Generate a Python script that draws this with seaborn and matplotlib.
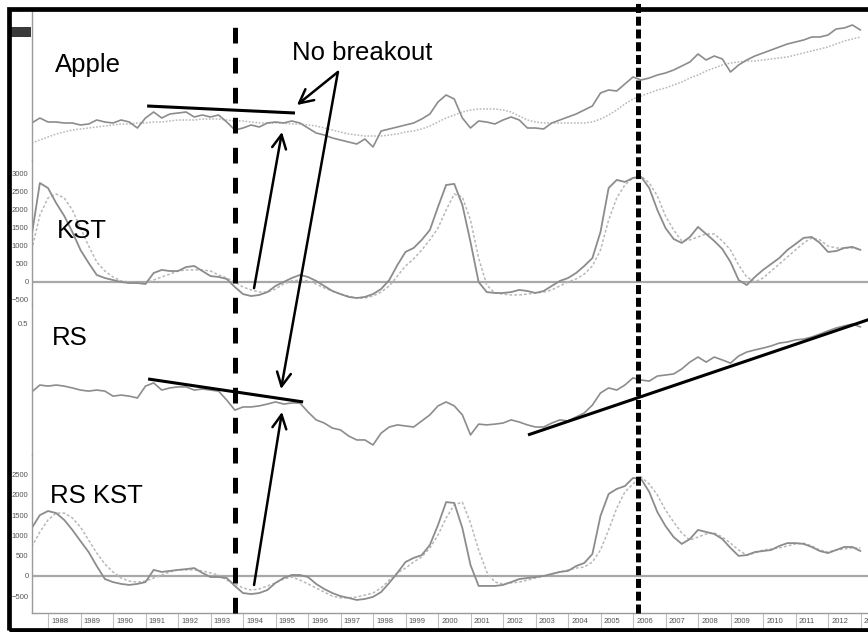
import numpy as np
import pandas as pd
import matplotlib
matplotlib.use("Agg")
import matplotlib.pyplot as plt
import matplotlib.transforms as mtransforms
from matplotlib.patches import Rectangle, ConnectionPatch, ArrowStyle
from matplotlib.ticker import FixedLocator, FixedFormatter, MultipleLocator, NullFormatter
from matplotlib import font_manager
import seaborn as sns

# ---------------- data (quarterly, 1987.5 .. 2013.0) ----------------
first_quarter = 1987.5
apple = [37, 42,
         38, 38, 37, 37,  35, 36, 40, 38,  37, 40, 38, 32,  42, 48, 42, 46,
         47, 48, 43, 45,  43, 45, 38, 30,  32, 35, 33, 37,  38, 37, 39, 37,
         32, 27, 25, 22,  20, 18, 16, 21,  13, 29, 31, 33,  35, 37, 41, 46,
         58, 65, 61, 42,  32, 39, 38, 36,  40, 43, 40, 32,  32, 31, 37, 40,
         43, 46, 50, 54,  67, 70, 69, 76,  83, 80, 82, 85,  87, 90, 94, 98,
         106, 100, 104, 101,  88, 95, 100, 104,  107, 110, 113, 116,  118, 120, 123, 123,
         125, 131, 132, 135,  130]
apple_ma = [17, 20,
            23, 26, 28, 30,  31, 32, 33, 34,  35, 36, 36, 37,  37, 38, 38, 39,
            40, 40, 40, 41,  41, 41, 40, 39,  39, 38, 37, 37,  37, 37, 36, 36,
            35, 34, 32, 30,  28, 26, 25, 24,  24, 24, 25, 26,  28, 29, 31, 34,
            38, 42, 45, 48,  50, 51, 51, 51,  50, 48, 44, 40,  38, 37, 37, 37,
            37, 37, 37, 38,  41, 45, 50, 56,  61, 64, 67, 70,  72, 75, 78, 82,
            85, 89, 92, 95,  97, 98, 99, 99,  100, 101, 102, 103,  105, 107, 109, 111,
            113, 116, 119, 121,  123]
kst = [1300, 2750,
       2610, 2195, 1835, 1390,  890, 530, 195, 110,  55, 0, -28, -28,  -55, 250, 335, 305,
       305, 415, 445, 305,  165, 140, 85, -140,  -335, -390, -360, -280,  -110, 0, 110, 195,
       140, 30, -110, -250,  -335, -415, -445, -415,  -335, -195, 55, 470,  835, 945, 1170, 1445,
       2085, 2695, 2725, 2140,  1110, 0, -280, -305,  -305, -280, -220, -250,  -305, -250, -110, 30,
       110, 250, 445, 665,  1390, 2610, 2835, 2780,  2890, 2920, 2610, 2000,  1500, 1195, 1085, 1250,
       1530, 1335, 1140, 915,  555, 55, -85, 140,  335, 500, 665, 890,  1055, 1225, 1250, 1085,
       835, 860, 945, 975,  890]
kst_signal = [890, 1860,
              2335, 2445, 2335, 2000,  1500, 1000, 555, 305,  140, 30, 0, -28,  -28, 55, 140, 220,
              305, 335, 335, 335,  305, 195, 110, 0,  -140, -220, -280, -280,  -195, -55, 30, 55,
              30, -55, -165, -250,  -335, -390, -445, -445,  -390, -280, -110, 165,  445, 640, 890, 1170,
              1500, 2000, 2445, 2360,  1720, 665, -85, -305,  -335, -360, -360, -335,  -305, -280, -220, -110,
              0, 85, 220, 445,  890, 1720, 2335, 2695,  2890, 2945, 2750, 2390,  1835, 1445, 1140, 1170,
              1250, 1335, 1335, 1140,  890, 470, 140, 0,  110, 305, 500, 695,  890, 1085, 1225, 1170,
              1000, 945, 945, 945,  915]
rs = [0.239, 0.265,
      0.261, 0.265, 0.261, 0.254,  0.246, 0.242, 0.246, 0.242,  0.223, 0.227, 0.223, 0.216,  0.261, 0.273, 0.246, 0.254,
      0.258, 0.258, 0.246, 0.250,  0.246, 0.242, 0.208, 0.170,  0.182, 0.182, 0.186, 0.193,  0.201, 0.193, 0.197, 0.197,
      0.163, 0.133, 0.121, 0.102,  0.095, 0.072, 0.057, 0.057,  0.038, 0.083, 0.106, 0.114,  0.110, 0.106, 0.129, 0.152,
      0.186, 0.201, 0.186, 0.152,  0.076, 0.117, 0.114, 0.117,  0.121, 0.133, 0.125, 0.114,  0.106, 0.106, 0.121, 0.133,
      0.129, 0.144, 0.159, 0.189,  0.235, 0.254, 0.246, 0.265,  0.292, 0.284, 0.280, 0.299,  0.303, 0.307, 0.326, 0.352,
      0.371, 0.352, 0.371, 0.360,  0.348, 0.375, 0.390, 0.398,  0.405, 0.413, 0.424, 0.428,  0.436, 0.439, 0.447, 0.458,
      0.470, 0.481, 0.489, 0.496,  0.485]
rs_kst = [1180, 1500,
          1600, 1550, 1380, 1135,  860, 590, 245, -75,  -150, -195, -220, -195,  -150, 150, 100, 125,
          150, 170, 195, 75,  -25, -25, -50, -245,  -420, -445, -420, -345,  -170, -50, 25, 25,
          -25, -195, -320, -420,  -495, -540, -590, -565,  -515, -395, -170, 75,  345, 445, 515, 765,
          1255, 1820, 1800, 1180,  270, -245, -245, -245,  -220, -150, -75, -50,  -25, 0, 50, 100,
          125, 245, 320, 540,  1480, 2020, 2145, 2215,  2415, 2390, 2070, 1575,  1230, 960, 790, 910,
          1135, 1085, 1035, 910,  690, 495, 515, 590,  615, 640, 740, 810,  810, 790, 715, 615,
          565, 640, 715, 715,  615]
rs_kst_signal = [715, 1085,
                 1380, 1550, 1550, 1430,  1205, 885, 565, 295,  100, -50, -125, -150,  -125, -50, 25, 100,
                 150, 150, 150, 125,  75, 25, -100, -195,  -295, -345, -320, -245,  -170, -75, -25, -100,
                 -195, -295, -395, -495,  -540, -540, -515, -470,  -420, -295, -100, 75,  195, 345, 470, 690,
                 1010, 1430, 1750, 1820,  1305, 640, 100, -150,  -195, -170, -150, -100,  -50, 0, 50, 100,
                 150, 195, 220, 345,  640, 1135, 1675, 2070,  2265, 2440, 2265, 1995,  1625, 1330, 1060, 885,
                 960, 1035, 1060, 960,  810, 640, 515, 565,  640, 665, 690, 740,  790, 810, 740, 640,
                 590, 640, 665, 690,  690]

year_ticks = list(range(1988, 2014))
year_labels = [str(y) for y in year_ticks]
kst_ticks = [-500, 0, 500, 1000, 1500, 2000, 2500, 3000]
rs_ticks = [0.5]
rs_kst_ticks = [-500, 0, 500, 1000, 1500, 2000, 2500]

# annotation geometry (year, value) in each panel
apple_trend = ([1991.05, 1995.6], [54, 47])
rs_trend_down = ([1991.08, 1995.85], [0.288, 0.201])
rs_trend_up = ([2002.77, 2013.3], [0.076, 0.515])
vline_years = [1993.75, 2006.14]


def series_df(values, name):
    t = first_quarter + 0.25 * np.arange(len(values))
    return pd.DataFrame({"year": t, name: values})


# ---------------- style ----------------
sns.set_style("white")
plt.rcParams["lines.scale_dashes"] = False
plt.rcParams["font.family"] = ["Liberation Sans", "DejaVu Sans"]

def has_font(name):
    try:
        font_manager.findfont(name, fallback_to_default=False)
        return True
    except Exception:
        return False

tick_font = "Liberation Sans Narrow" if has_font("Liberation Sans Narrow") else "Liberation Sans"

W, H = 868, 632
fig = plt.figure(figsize=(W / 100, H / 100), dpi=100)
fig.patch.set_facecolor("white")

AX_RIGHT = 900  # axes run past the right edge of the picture, as in the cropped original
X0 = 1988 + (32 - 48) / 32.5
X1 = 1988 + (AX_RIGHT - 48) / 32.5


def px_axes(top, bottom):
    ax = fig.add_axes([32 / W, (H - bottom) / H, (AX_RIGHT - 32) / W, (bottom - top) / H])
    ax.patch.set_alpha(0)
    ax.set_xlim(X0, X1)
    for s in ["top", "right", "bottom"]:
        ax.spines[s].set_visible(False)
    ax.spines["left"].set_color("#9a9a9a")
    ax.spines["left"].set_linewidth(1.0)
    ax.tick_params(axis="x", which="both", bottom=False, labelbottom=False)
    ax.tick_params(axis="y", which="major", direction="inout", length=3, width=0.8,
                   color="#9a9a9a", labelsize=5.5, labelcolor="#555555", pad=1)
    ax.tick_params(axis="y", which="minor", direction="inout", length=2, width=0.6, color="#b0b0b0")
    return ax

ax_apple = px_axes(11, 160)
ax_kst = px_axes(160, 305)
ax_rs = px_axes(305, 455)
ax_rsk = px_axes(455, 613)

solid = "#8c8c8c"
dotted = "#b8b8b8"

sns.lineplot(data=series_df(apple_ma, "v"), x="year", y="v", ax=ax_apple, color=dotted,
             linewidth=1.1, linestyle=(0, (1.2, 1.2)), legend=False)
sns.lineplot(data=series_df(apple, "v"), x="year", y="v", ax=ax_apple, color=solid,
             linewidth=1.2, legend=False)

sns.lineplot(data=series_df(kst_signal, "v"), x="year", y="v", ax=ax_kst, color=dotted,
             linewidth=1.1, linestyle=(0, (2, 1.5)), legend=False)
sns.lineplot(data=series_df(kst, "v"), x="year", y="v", ax=ax_kst, color=solid,
             linewidth=1.3, legend=False)

sns.lineplot(data=series_df(rs, "v"), x="year", y="v", ax=ax_rs, color=solid,
             linewidth=1.2, legend=False)

sns.lineplot(data=series_df(rs_kst_signal, "v"), x="year", y="v", ax=ax_rsk, color=dotted,
             linewidth=1.1, linestyle=(0, (2, 1.5)), legend=False)
sns.lineplot(data=series_df(rs_kst, "v"), x="year", y="v", ax=ax_rsk, color=solid,
             linewidth=1.3, legend=False)

ax_apple.set_ylim(0, 149)
ax_kst.set_ylim((282 - 305) * 500 / 18, (282 - 160) * 500 / 18)
ax_rs.set_ylim(0, 150 / 264)
ax_rsk.set_ylim((576 - 613) * 500 / 20.3, (576 - 455) * 500 / 20.3)

for ax in (ax_apple, ax_kst, ax_rs, ax_rsk):
    ax.set_xlim(X0, X1)
    ax.set_xlabel("")
    ax.set_ylabel("")

for ax in (ax_kst, ax_rsk):
    ax.axhline(0, color="#a8a8a8", linewidth=1.6, zorder=1)

# y ticks
ax_apple.yaxis.set_major_locator(FixedLocator([]))
ax_apple.yaxis.set_minor_locator(MultipleLocator(10))
ax_kst.yaxis.set_major_locator(FixedLocator(kst_ticks))
ax_kst.yaxis.set_minor_locator(MultipleLocator(250))
ax_rs.yaxis.set_major_locator(FixedLocator(rs_ticks))
ax_rs.yaxis.set_major_formatter(FixedFormatter(["0.5"]))
ax_rs.yaxis.set_minor_locator(MultipleLocator(0.05))
ax_rsk.yaxis.set_major_locator(FixedLocator(rs_kst_ticks))
ax_rsk.yaxis.set_minor_locator(MultipleLocator(250))
for ax in (ax_apple, ax_kst, ax_rs, ax_rsk):
    ax.yaxis.set_minor_formatter(NullFormatter())
    for lab in ax.get_yticklabels():
        lab.set_fontfamily(tick_font)

# x axis on bottom panel
ax_rsk.spines["bottom"].set_visible(True)
ax_rsk.spines["bottom"].set_color("#9a9a9a")
ax_rsk.spines["bottom"].set_linewidth(1.0)
ax_rsk.xaxis.set_major_locator(FixedLocator(year_ticks))
ax_rsk.xaxis.set_major_formatter(NullFormatter())
ax_rsk.xaxis.set_minor_locator(FixedLocator([y + 0.36 for y in year_ticks]))
ax_rsk.xaxis.set_minor_formatter(FixedFormatter(year_labels))
ax_rsk.tick_params(axis="x", which="major", bottom=True, direction="out", length=11,
                   width=0.8, color="#c0c0c0")
ax_rsk.tick_params(axis="x", which="minor", bottom=True, labelbottom=True, length=0,
                   labelsize=5.5, labelcolor="#555555", pad=3.5)
for lab in ax_rsk.get_xticklabels(minor=True):
    lab.set_fontfamily(tick_font)

# trendlines
lw_trend = 2.2
ax_apple.plot(*apple_trend, color="black", lw=lw_trend, solid_capstyle="butt", zorder=5)
ax_rs.plot(*rs_trend_down, color="black", lw=lw_trend, solid_capstyle="butt", zorder=5)
ax_rs.plot(*rs_trend_up, color="black", lw=lw_trend, solid_capstyle="butt", zorder=5)

# vertical dashed lines spanning all panels
blend = mtransforms.blended_transform_factory(ax_rsk.transData, fig.transFigure)
fig.add_artist(plt.Line2D([vline_years[0]] * 2, [(H - 613) / H, (H - 13) / H], transform=blend,
                          color="black", lw=3.6, linestyle=(0, (11.3, 10.3)), zorder=10))
fig.add_artist(plt.Line2D([vline_years[1]] * 2, [(H - 613) / H, (H - 3) / H], transform=blend,
                          color="black", lw=3.6, linestyle=(0, (6.5, 2.7)), zorder=10))

# labels
lab_kw = dict(fontsize=18.5, color="black", va="baseline", ha="left", zorder=12)
ax_apple.text(1988.22, 88, "Apple", **lab_kw)
ax_kst.text(1988.28, 1222, "KST", **lab_kw)
ax_rs.text(1988.12, 0.417, "RS", **lab_kw)
ax_rsk.text(1988.06, 1798, "RS KST", **lab_kw)
ax_apple.text(1995.51, 100, "No breakout", **lab_kw)

# arrows
astyle = ArrowStyle("->", head_length=0.55, head_width=0.28)
def arrow(axA, xyA, axB, xyB):
    con = ConnectionPatch(xyA=xyA, coordsA=axA.transData, xyB=xyB, coordsB=axB.transData,
                          arrowstyle=astyle, mutation_scale=18, lw=1.8, color="black",
                          shrinkA=0, shrinkB=0, zorder=11)
    fig.add_artist(con)

arrow(ax_apple, (1996.92, 88), ax_apple, (1995.66, 55))
arrow(ax_apple, (1996.92, 88), ax_rs, (1995.17, 0.250))
arrow(ax_kst, (1994.34, -170), ax_apple, (1995.2, 28))
arrow(ax_rsk, (1994.34, -222), ax_rs, (1995.2, 0.163))

# small dark price box and outer frame
fig.add_artist(Rectangle((11 / W, (H - 37) / H), 20 / W, 10 / H, transform=fig.transFigure,
                         facecolor="#3a3a3a", edgecolor="none", zorder=12))
fig.add_artist(Rectangle((8.5 / W, (H - 630) / H), (880 - 8.5) / W, (630 - 9) / H,
                         transform=fig.transFigure, fill=False, edgecolor="black",
                         linewidth=3.4, zorder=13, clip_on=False))

fig.savefig("out.png", dpi=100, facecolor="white")
